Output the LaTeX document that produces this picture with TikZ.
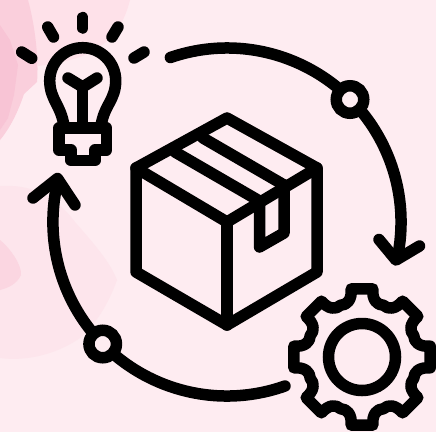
\documentclass[tikz,border=0pt]{standalone}
\definecolor{bgpink}{HTML}{FEECF1}
\definecolor{blotchA}{HTML}{FACFDC}
\definecolor{blotchB}{HTML}{FEE1E9}
\definecolor{blotchC}{HTML}{FDE5EC}
\definecolor{blotchD}{HTML}{F8C4D5}
\definecolor{blotchE}{HTML}{FBD6E1}
\begin{document}
\begin{tikzpicture}[x=1pt,y=-1pt,
  icon/.style={draw=black,line width=11.5pt,line cap=round,line join=round},
  ringnode/.style={circle,draw=black,line width=11.5pt,minimum size=27.5pt,inner sep=0pt,fill=bgpink}]
\useasboundingbox (0,0) rectangle (436,432);
\fill[bgpink] (0,0) rectangle (436,432);
% background blotches
\fill[blotchB] (28,0) -- (130,0) .. controls (125,20) and (115,38) .. (100,46) .. controls (90,55) and (70,62) .. (38,66) -- cycle;
\fill[blotchA] (0,0) -- (28,0) .. controls (35,25) and (39,60) .. (37,82) -- (24,94) .. controls (18,112) and (10,128) .. (0,140) -- cycle;
\fill[blotchD] (0,25) -- (10,40) -- (18,65) -- (14,95) -- (8,118) -- (0,130) -- cycle;
\fill[blotchC] (0,186) .. controls (30,184) and (55,195) .. (75,222) .. controls (95,245) and (110,262) .. (117,280) .. controls (108,305) and (95,325) .. (80,338) .. controls (60,352) and (30,362) .. (0,358) -- cycle;
\fill[blotchE] (0,240) .. controls (10,248) and (22,265) .. (21,275) .. controls (17,284) and (8,288) .. (0,290) -- cycle;
% cycle arcs
\draw[icon] (170.4,57.5) arc[start angle=251,end angle=372,radius=174];
\draw[icon] (285,386) arc[start angle=70.5,end angle=194,radius=174];
% arrowheads
\draw[icon] (379,239.5) -- (396,260) -- (419.5,246);
\draw[icon] (33,198) -- (57.5,178.5) -- (75,205);
% ring markers
\node[ringnode] (markerA) at (350,99.5) {};
\node[ringnode] (markerB) at (102.7,344) {};
% box
\draw[icon] (227,118) -- (317,168) -- (317,272) -- (227,325) -- (136,272) -- (136,168) -- cycle;
\draw[icon] (136,168) -- (227,222) -- (317,168);
\draw[icon] (227,222) -- (227,325);
\draw[icon] (175,152) -- (259.5,201);
\draw[icon] (203,138) -- (284,185);
\draw[icon] (259.5,201) -- (259.5,247) -- (284,233) -- (284,185);
% bulb
\draw[icon] (64,126) .. controls (61,105) and (50,100) .. (49.7,80.7) arc[start angle=180,end angle=360,radius=33] .. controls (115.7,100) and (104,105) .. (101,126);
\draw[icon] (59,128) -- (106.6,128) -- (106.6,150) -- (95,150) -- (95,160.5) -- (71,160.5) -- (71,150) -- (59,150) -- cycle;
\draw[icon] (68,78) -- (82.7,87) -- (97,78);
\draw[icon] (82.7,87) -- (82.7,128);
% rays
\draw[icon] (82.7,17.5) -- (82.7,28);
\draw[icon] (47.7,27) -- (53.5,37);
\draw[icon] (118,27) -- (112,37);
\draw[icon] (21.7,52) -- (31.7,58.3);
\draw[icon] (144,52) -- (134,58);
% gear
\begin{scope}[shift={(362,357)}]
\node[circle,draw=black,line width=11.5pt,minimum size=67pt,inner sep=0pt] (hubring) at (0,0) {};
\draw[icon] (-9:69) -- (9:69)
  \foreach \a in {0,45,...,315}{
    .. controls ({\a+10}:58) and ({\a+16}:54) .. ({\a+22.5}:56)
    .. controls ({\a+29}:54) and ({\a+35}:58) .. ({\a+36}:69)
    -- ({\a+54}:69)
  } -- cycle;
\end{scope}
\end{tikzpicture}
\end{document}
